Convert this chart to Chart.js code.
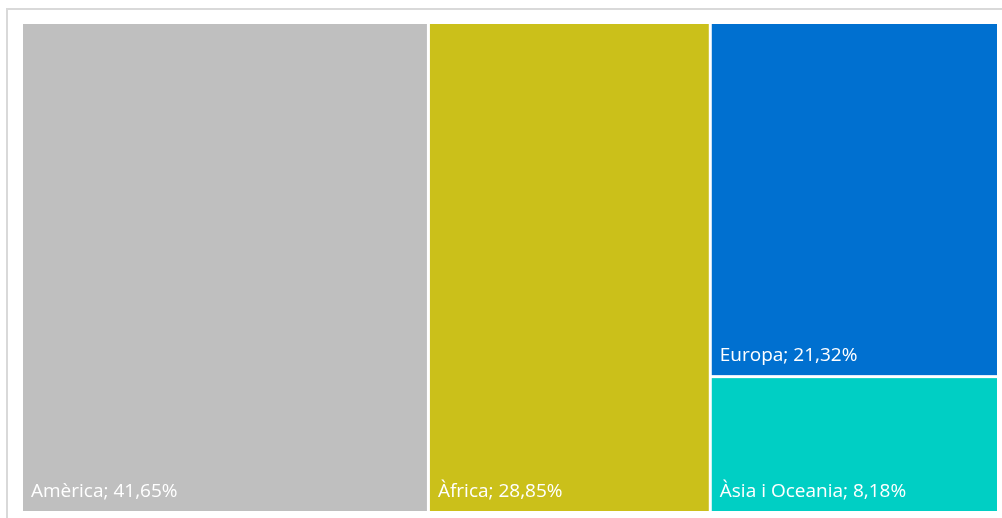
<!DOCTYPE html>
<html>
<head>
<meta charset="utf-8">
<script src="https://cdn.jsdelivr.net/npm/chart.js@4/dist/chart.umd.min.js"></script>
<style>
  html, body { margin: 0; padding: 0; background: #ffffff; }
  #wrap { position: relative; width: 1002px; height: 518px; }
</style>
</head>
<body>
<div id="wrap"><canvas id="c" width="1002" height="518"></canvas></div>
<script>
// ---- data ----
const regions = ["Amèrica", "Àfrica", "Europa", "Àsia i Oceania"];
const shares = [41.65, 28.85, 21.32, 8.18];
const colors = ["#BFBFBF", "#CBC01A", "#0070D0", "#00CFC4"];

// squarified treemap layout in pixel space, returns rects as fractions of the area
function squarify(values, W, H) {
  const total = values.reduce((a, b) => a + b, 0);
  const areas = values.map(v => v / total * W * H);
  const out = [];
  let x = 0, y = 0, w = W, h = H;
  let i = 0;
  function worst(row, side) {
    const s = row.reduce((a, b) => a + b, 0);
    let m = 0;
    row.forEach(r => {
      const len = s / side, other = r / len;
      m = Math.max(m, Math.max(len / other, other / len));
    });
    return m;
  }
  while (i < areas.length) {
    const side = Math.min(w, h);
    let row = [areas[i]];
    let j = i + 1;
    while (j < areas.length && worst(row.concat([areas[j]]), side) <= worst(row, side)) {
      row.push(areas[j]); j++;
    }
    const s = row.reduce((a, b) => a + b, 0);
    if (w >= h) {
      const cw = s / h; let cy = y;
      row.forEach((r, k) => { const rh = r / cw; out.push({x0: x, x1: x + cw, y0: cy, y1: cy + rh, idx: i + k}); cy += rh; });
      x += cw; w -= cw;
    } else {
      const rh = s / w; let cx = x;
      row.forEach((r, k) => { const rw = r / rh; out.push({x0: cx, x1: cx + rw, y0: y, y1: y + rh, idx: i + k}); cx += rw; });
      y += rh; h -= rh;
    }
    i = j;
  }
  return out.map(r => ({x0: r.x0 / W * 100, x1: r.x1 / W * 100, y0: r.y0 / H * 100, y1: r.y1 / H * 100, idx: r.idx}));
}

const framePlugin = {
  id: 'frame',
  beforeDraw(chart) {
    const ctx = chart.ctx;
    ctx.save();
    ctx.fillStyle = '#ffffff';
    ctx.fillRect(0, 0, chart.width, chart.height);
    ctx.strokeStyle = '#D9D9D9';
    ctx.lineWidth = 2;
    ctx.strokeRect(7, 9, 1010, 530);
    ctx.restore();
  }
};

const treemapPlugin = {
  id: 'treemap',
  afterDatasetsDraw(chart) {
    const ctx = chart.ctx;
    const xs = chart.scales.x, ys = chart.scales.y;
    const a = chart.chartArea;
    const rects = squarify(shares, a.right - a.left, a.bottom - a.top);
    const gap = 1.5;
    ctx.save();
    rects.forEach(r => {
      const px0 = xs.getPixelForValue(r.x0) + gap;
      const px1 = xs.getPixelForValue(r.x1) - gap;
      const py0 = ys.getPixelForValue(r.y0) + gap;
      const py1 = ys.getPixelForValue(r.y1) - gap;
      ctx.fillStyle = colors[r.idx];
      ctx.fillRect(px0, py0, px1 - px0, py1 - py0);
      ctx.fillStyle = '#ffffff';
      ctx.font = '19px "Open Sans", sans-serif';
      ctx.textBaseline = 'alphabetic';
      ctx.textAlign = 'left';
      const label = regions[r.idx] + '; ' + shares[r.idx].toFixed(2).replace('.', ',') + '%';
      ctx.fillText(label, px0 + 8, py1 - 14);
    });
    ctx.restore();
  }
};

new Chart(document.getElementById('c'), {
  type: 'scatter',
  data: { datasets: [{ data: [], pointRadius: 0 }] },
  options: {
    responsive: false,
    animation: false,
    layout: { padding: { left: 21.5, top: 22.5, right: 3.5, bottom: 5.5 } },
    plugins: { legend: { display: false }, tooltip: { enabled: false } },
    scales: {
      x: { type: 'linear', min: 0, max: 100, display: false },
      y: { type: 'linear', min: 0, max: 100, reverse: true, display: false }
    }
  },
  plugins: [framePlugin, treemapPlugin]
});
</script>
</body>
</html>
